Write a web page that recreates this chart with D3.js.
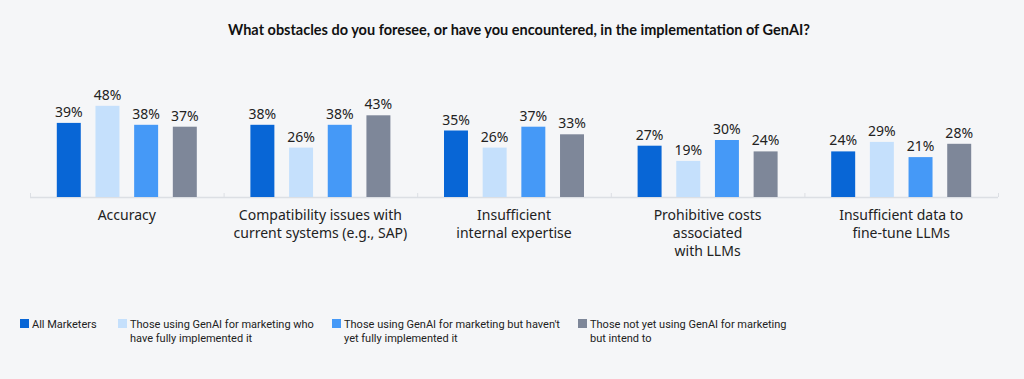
<!DOCTYPE html>
<html><head><meta charset="utf-8">
<script src="https://cdn.jsdelivr.net/npm/d3@7"></script>
<style>
html,body{margin:0;padding:0;background:#f5f6f8;}
svg{display:block;font-family:"Noto Sans","Open Sans",sans-serif;}
</style></head>
<body><svg id="chart" width="1024" height="379"></svg>
<script>
const title = "What obstacles do you foresee, or have you encountered, in the implementation of GenAI?";
const categories = [
  ["Accuracy"],
  ["Compatibility issues with", "current systems (e.g., SAP)"],
  ["Insufficient", "internal expertise"],
  ["Prohibitive costs", "associated", "with LLMs"],
  ["Insufficient data to", "fine-tune LLMs"]
];
const seriesNames = [
  ["All Marketers"],
  ["Those using GenAI for marketing who", "have fully implemented it"],
  ["Those using GenAI for marketing but haven't", "yet fully implemented it"],
  ["Those not yet using GenAI for marketing", "but intend to"]
];
const allMarketers = [39, 38, 35, 27, 24];
const fullyImplemented = [48, 26, 26, 19, 29];
const notFullyImplemented = [38, 38, 37, 30, 21];
const intendTo = [37, 43, 33, 24, 28];
const series = [allMarketers, fullyImplemented, notFullyImplemented, intendTo];
const colors = ["#0866d6", "#c5e0fc", "#4599f7", "#7e8799"];

const svg = d3.select("#chart");
const left = 30, right = 998, baseY = 197;

svg.append("text").attr("x", 519).attr("y", 35).attr("text-anchor", "middle")
  .attr("font-family", "Lato, Roboto, sans-serif")
  .attr("font-size", 14.5).attr("font-weight", "bold").attr("fill", "#111").text(title);

const x0 = d3.scaleBand().domain(d3.range(categories.length)).range([left, right]);
const x1 = d3.scaleBand().domain(d3.range(series.length)).range([0, 140]).paddingInner(0.38).paddingOuter(0);
const y = d3.scaleLinear().domain([0, 50]).range([baseY, baseY - 95]);

// axis baseline with boundary ticks
svg.append("line").attr("x1", left).attr("x2", right).attr("y1", baseY + 0.5).attr("y2", baseY + 0.5)
  .attr("stroke", "#dcdfe4").attr("stroke-width", 1.5);
const bounds = d3.range(categories.length).map(i => x0(i)).concat([right]);
svg.selectAll("line.tick").data(bounds).join("line").attr("class", "tick")
  .attr("x1", d => d + 0.5).attr("x2", d => d + 0.5).attr("y1", baseY - 4).attr("y2", baseY)
  .attr("stroke", "#dcdfe4").attr("stroke-width", 1);

const groups = svg.selectAll("g.grp").data(categories).join("g").attr("class", "grp")
  .attr("transform", (d, i) => `translate(${x0(i) + x0.bandwidth() / 2 - 70},0)`);

groups.each(function(cat, ci) {
  const g = d3.select(this);
  series.forEach((s, si) => {
    g.append("rect").attr("x", x1(si)).attr("width", x1.bandwidth())
      .attr("y", y(s[ci])).attr("height", baseY - y(s[ci])).attr("fill", colors[si]);
    g.append("text").attr("x", x1(si) + x1.bandwidth() / 2).attr("y", y(s[ci]) - 6)
      .attr("text-anchor", "middle").attr("font-size", 14).attr("fill", "#222").text(s[ci] + "%");
  });
  const t = g.append("text").attr("x", 70).attr("y", 220).attr("text-anchor", "middle")
    .attr("font-size", 14).attr("fill", "#222");
  cat.forEach((line, li) => t.append("tspan").attr("x", 70).attr("dy", li === 0 ? 0 : 18).text(line));
});

// legend
const legendX = [20, 118, 332, 578];
seriesNames.forEach((name, i) => {
  const g = svg.append("g").attr("transform", `translate(${legendX[i]},319)`);
  g.append("rect").attr("width", 9).attr("height", 9).attr("fill", colors[i]);
  const t = g.append("text").attr("x", 12).attr("y", 9).attr("font-family", "Roboto, sans-serif")
    .attr("font-size", 11).attr("fill", "#222");
  name.forEach((line, li) => t.append("tspan").attr("x", 12).attr("dy", li === 0 ? 0 : 14).text(line));
});
</script></body></html>
